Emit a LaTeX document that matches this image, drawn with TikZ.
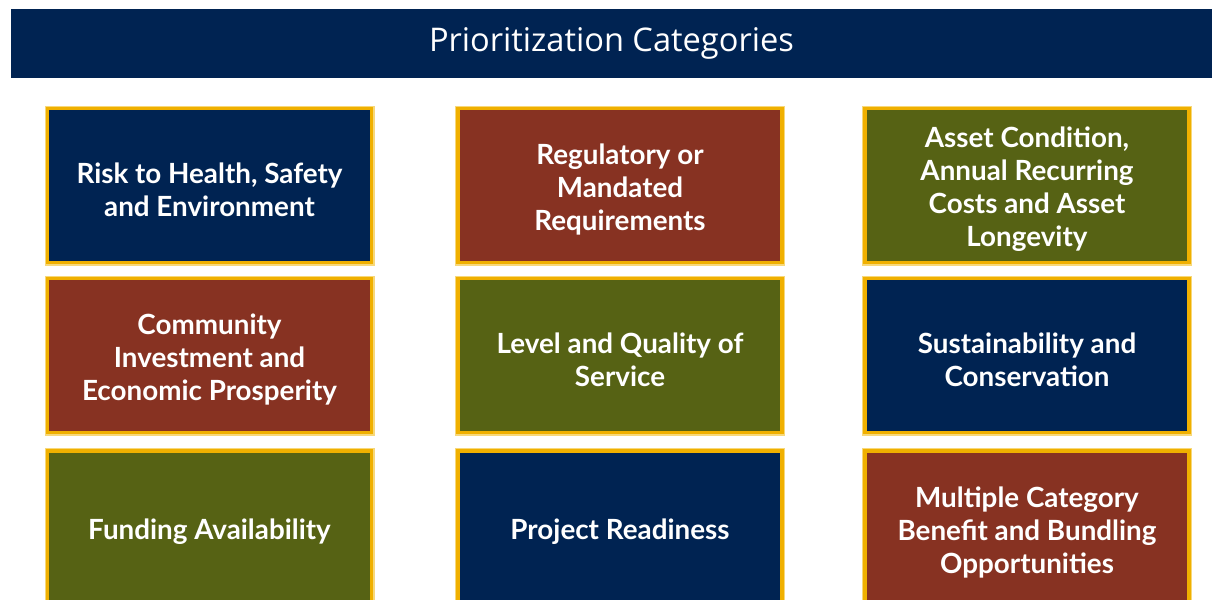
\documentclass[tikz,border=0pt]{standalone}
\usepackage{fontspec}
\setmainfont{Open Sans}
\newfontfamily\boxfont{Lato}
\definecolor{navy}{HTML}{002352}
\definecolor{rust}{HTML}{873222}
\definecolor{olive}{HTML}{566214}
\definecolor{gold}{HTML}{F0B000}
\definecolor{palegold}{HTML}{F7D87A}
\begin{document}
\begin{tikzpicture}[x=0.5pt,y=-0.5pt,
    cattext/.style={inner sep=0pt,align=center,text=white,yshift=-2pt,
      font=\boxfont\bfseries\fontsize{13.9}{16.5}\selectfont},
    catbox/.style={draw=gold,line width=1.6pt,minimum width=162pt,minimum height=77pt,
      inner sep=0pt,preaction={draw=palegold,line width=3pt},
      label={[cattext]center:{#1}}},
    header/.style={fill=navy,text=white,minimum width=600.5pt,minimum height=34.5pt,
      inner sep=0pt,font=\fontsize{16.3}{19}\selectfont}]
  \useasboundingbox (0,0) rectangle (1212,600);
  \clip (0,0) rectangle (1212,600);
  \node[header] (title) at (611.5,43.5) {Prioritization Categories};
  % row 1
  \node[catbox={Risk to Health, Safety\\and Environment},fill=navy] (risk) at (209.5,185.5) {};
  \node[catbox={Regulatory or\\Mandated\\Requirements},fill=rust] (regul) at (620,185.5) {};
  \node[catbox={Asset Condition,\\Annual Recurring\\Costs and Asset\\Longevity},fill=olive] (asset) at (1027,185.5) {};
  % row 2
  \node[catbox={Community\\Investment and\\Economic Prosperity},fill=rust] (commun) at (209.5,355.5) {};
  \node[catbox={Level and Quality of\\Service},fill=olive] (level) at (620,355.5) {};
  \node[catbox={Sustainability and\\Conservation},fill=navy] (sustain) at (1027,355.5) {};
  % row 3
  \node[catbox={Funding Availability},fill=olive] (fund) at (209.5,528) {};
  \node[catbox={Project Readiness},fill=navy] (ready) at (620,528) {};
  \node[catbox={Multiple Category\\Benefit and Bundling\\Opportunities},fill=rust] (multi) at (1027,528) {};
\end{tikzpicture}
\end{document}
